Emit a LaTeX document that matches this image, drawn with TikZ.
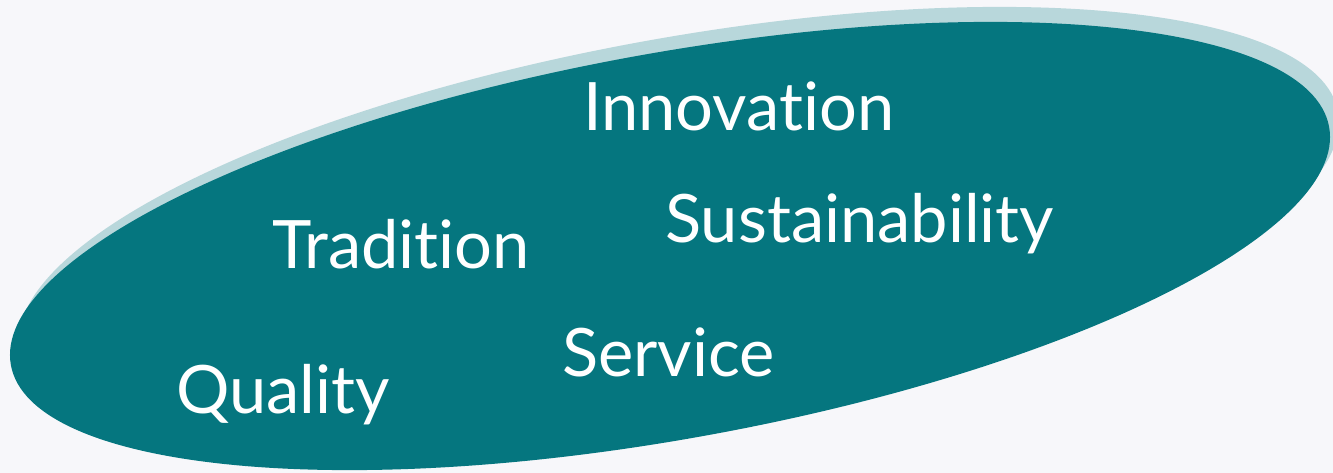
\documentclass[tikz,border=0pt]{standalone}
\usepackage{xcolor}
\usepackage{fontspec}
\setmainfont{Lato}[Ligatures=NoCommon]
\usepackage{tikz}
\definecolor{pagebg}{HTML}{F7F7FA}
\definecolor{petrol}{HTML}{05767F}
\definecolor{petrollight}{HTML}{B8D7DB}
\tikzset{word/.style={text=white,inner sep=0pt,anchor=base west,font=\fontsize{57}{60}\selectfont}}

\begin{document}
\begin{tikzpicture}[x=0.03cm,y=-0.03cm]
\fill[pagebg] (0,0) rectangle (1333,473);
\useasboundingbox (0,0) rectangle (1333,473);
% pale rim behind, then the main oval
\fill[petrollight,shift={(679,231)},rotate=10.24] (0,0) ellipse [x radius=669.8,y radius=192.9];
\fill[petrol,shift={(670,246)},rotate=10.24] (0,0) ellipse [x radius=669.8,y radius=192.9];
\node[word] (inno) at (583,130) {Innovation};
\node[word] (sust) at (665,242) {Sustainability};
\node[word] (trad) at (272,268) {Tradition};
\node[word] (serv) at (562,376) {Service};
\node[word] (qual) at (176,413) {Quality};
\end{tikzpicture}
\end{document}
